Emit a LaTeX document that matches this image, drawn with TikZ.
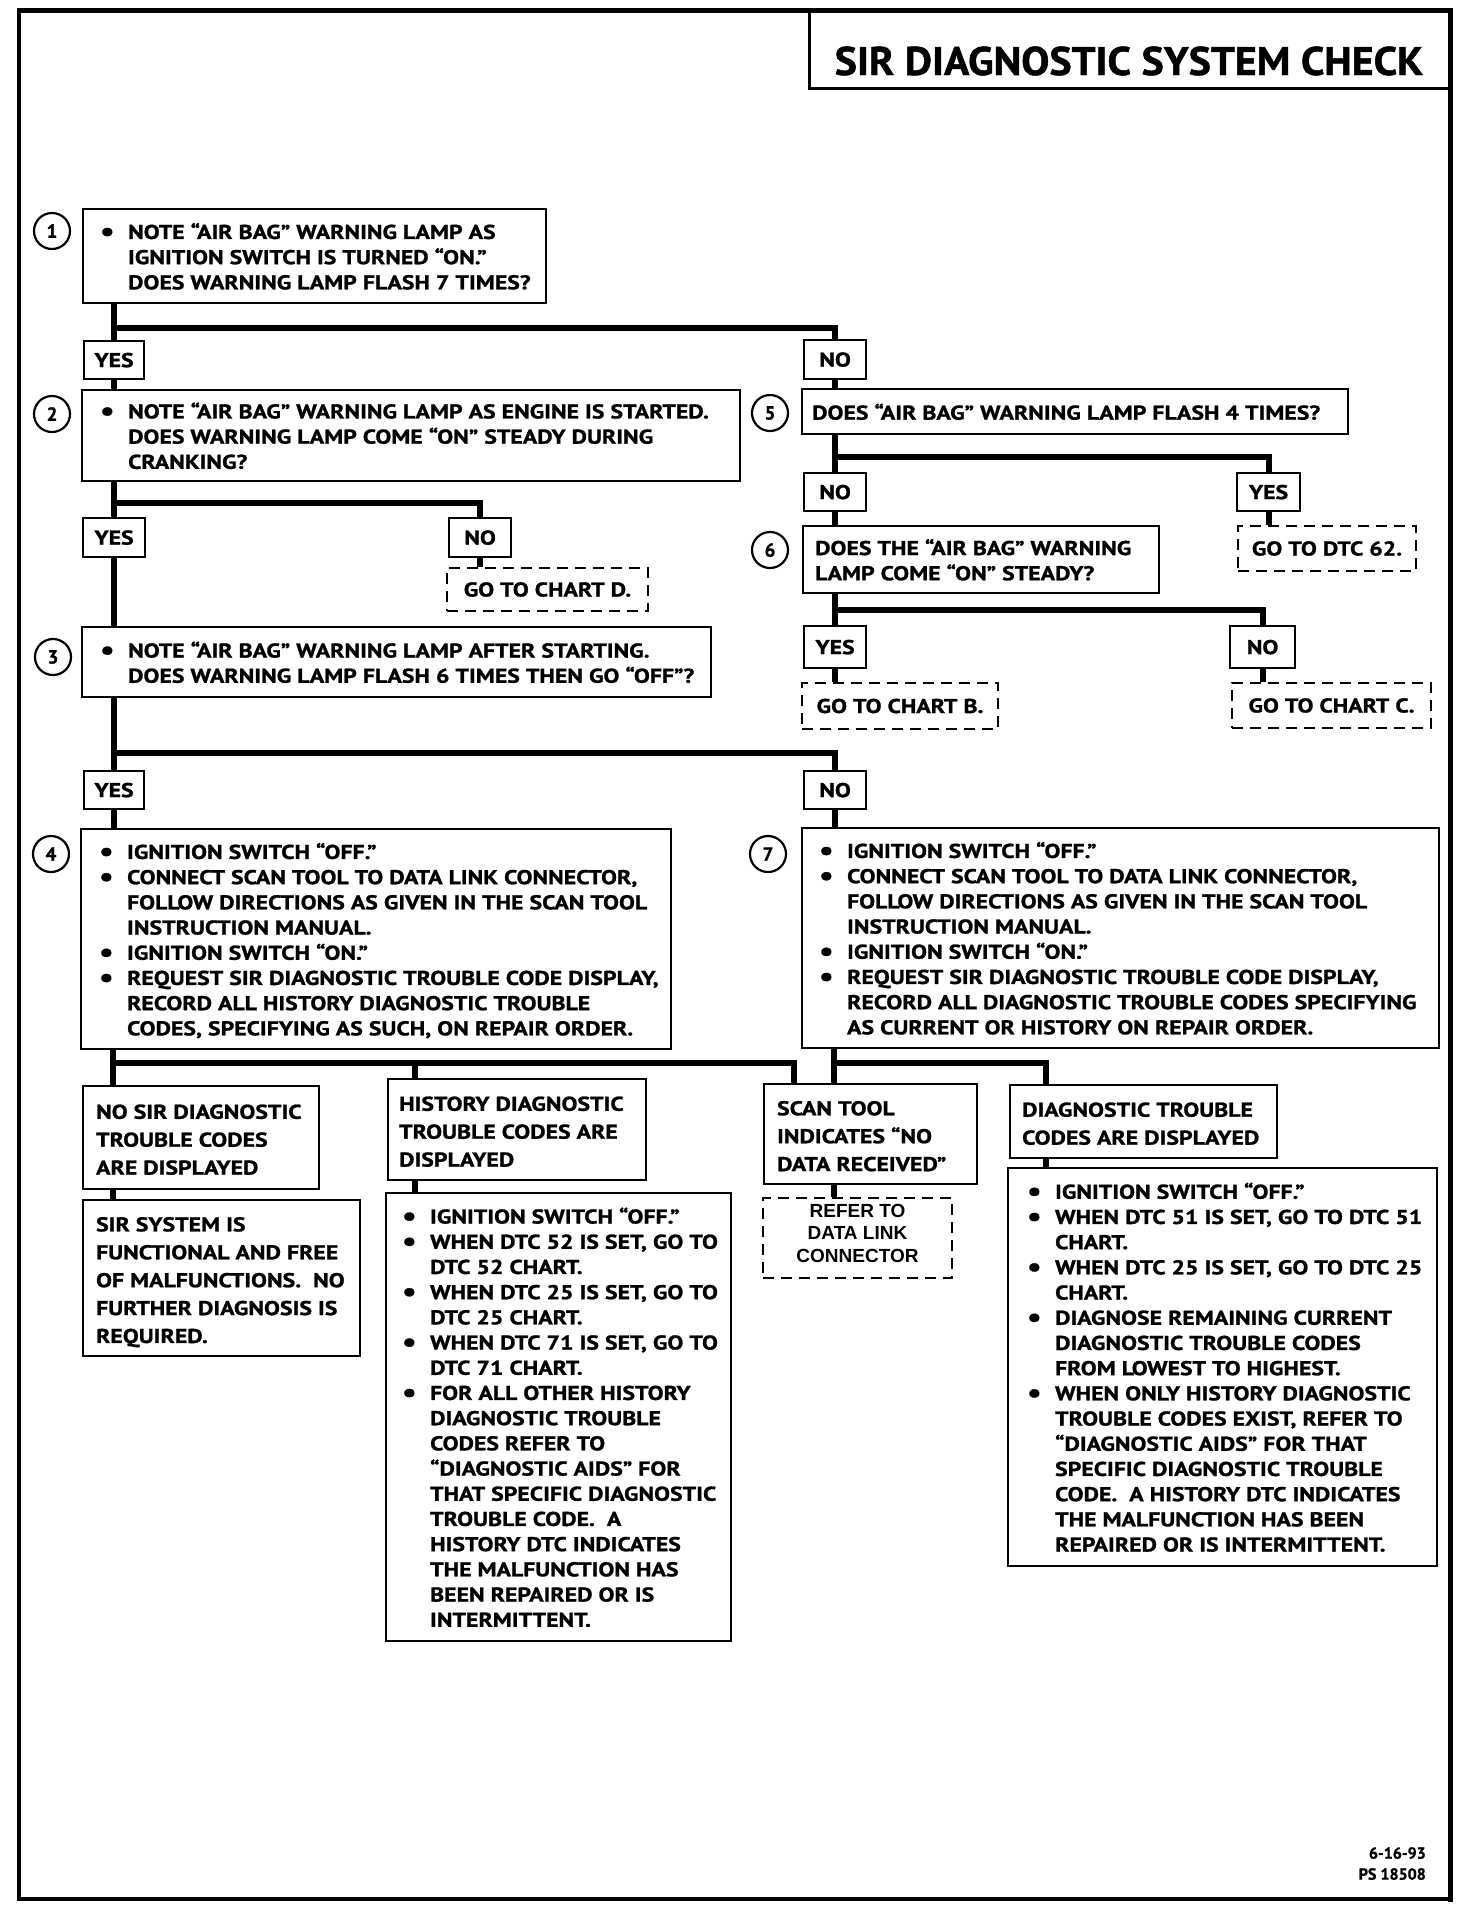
\documentclass[tikz,border=0pt]{standalone}
\usepackage{fontspec}
\setmainfont{PT Sans}[BoldFeatures={FakeStretch=1.19,FakeBold=1.2}]
\newfontfamily\titlefont{PT Sans}[BoldFeatures={FakeStretch=1.05,FakeBold=1.2}]
\newfontfamily\footfont{PT Sans}[BoldFeatures={FakeBold=1}]
\newfontfamily\reffont{Liberation Sans}
\usetikzlibrary{backgrounds}
\newcommand\bu{\makebox[28pt][l]{\raisebox{-1.5pt}{\scalebox{1.35}{\textbullet}}}}
\newcommand\ii{\hspace*{28pt}}
\newcommand\bx[2]{\raisebox{0pt}[\height][\dimexpr\depth-6pt\relax]{\makebox[#1][l]{\begin{tabular}{@{}l@{}}#2\end{tabular}}}}
\newcommand\bxl[2]{\raisebox{0pt}[\height][\dimexpr\depth-7pt\relax]{\makebox[#1][l]{\begin{tabular}{@{}l@{}}#2\end{tabular}}}}
\begin{document}
\begin{tikzpicture}[x=1pt,y=-1pt,
  box/.style={draw, line width=2.2pt, fill=white, anchor=north west, inner sep=0pt, font=\bfseries\fontsize{20}{25.2}\selectfont},
  lbl/.style={box, font=\bfseries\fontsize{20}{27.9}\selectfont},
  yn/.style={draw, line width=2.2pt, fill=white, anchor=north west, inner sep=0pt, align=center, font=\bfseries\fontsize{20}{24}\selectfont},
  go/.style={draw, line width=2pt, dash pattern=on 11pt off 7pt, fill=white, anchor=north west, inner sep=0pt, align=center, font=\bfseries\fontsize{20}{24}\selectfont},
  num/.style={circle, draw, line width=2.2pt, minimum size=36pt, inner sep=0pt, font=\footfont\bfseries\fontsize{19}{19}\selectfont},
  conn/.style={line width=6pt},
  sz/.style 2 args={minimum width=#1pt, minimum height=#2pt},
]
\useasboundingbox (0,0) rectangle (1472,1912);

% frame and title
\draw[line width=3.5pt] (19,10) rectangle (1450,1899);
\draw[line width=5pt, line cap=rect] (19,10) -- (1450,10) -- (1450,1899);
\draw[line width=3pt] (809,10) -- (809,88) -- (1450,88);
\node[font=\titlefont\bfseries\fontsize{40}{40}\selectfont] (title) at (1129,61) {SIR DIAGNOSTIC SYSTEM CHECK};
\node[anchor=north east, inner sep=0pt, align=right, font=\footfont\bfseries\fontsize{16}{21}\selectfont] (foot) at (1426,1847) {6-16-93\\PS 18508};

% step numbers
\node[num] (c1) at (52,231) {1};
\node[num] (c2) at (52,414) {2};
\node[num] (c3) at (53,657) {3};
\node[num] (c4) at (51,854) {4};
\node[num] (c5) at (770,413) {5};
\node[num] (c6) at (770,550) {6};
\node[num] (c7) at (768,854) {7};

% left column
\node[box, sz={463}{94}] (b1) at (82,208)
 {\bx{429pt}{\bu NOTE “AIR BAG” WARNING LAMP AS\\ \ii IGNITION SWITCH IS TURNED “ON.”\\ \ii DOES WARNING LAMP FLASH 7 TIMES?}};
\node[yn, sz={60}{38}] (Y1) at (83,340) {YES};
\node[yn, sz={62}{39}] (N1) at (803,339) {NO};
\node[box, sz={658}{91}] (b2) at (81,389)
 {\bx{622pt}{\bu NOTE “AIR BAG” WARNING LAMP AS ENGINE IS STARTED.\\ \ii DOES WARNING LAMP COME “ON” STEADY DURING\\ \ii CRANKING?}};
\node[yn, sz={62}{39}] (Y2) at (82,517) {YES};
\node[yn, sz={62}{39}] (N2) at (448,517) {NO};
\node[go, sz={201}{43}] (D) at (446,567) {GO TO CHART D.};
\node[box, sz={629}{70}] (b3) at (81,626)
 {\bx{593pt}{\bu NOTE “AIR BAG” WARNING LAMP AFTER STARTING.\\ \ii DOES WARNING LAMP FLASH 6 TIMES THEN GO “OFF”?}};
\node[yn, sz={60}{38}] (Y3) at (83,770) {YES};
\node[yn, sz={62}{38}] (N3) at (803,770) {NO};
\node[box, sz={590}{220}] (b4) at (80,828)
 {\bx{554pt}{\bu IGNITION SWITCH “OFF.”\\
  \bu CONNECT SCAN TOOL TO DATA LINK CONNECTOR,\\
  \ii FOLLOW DIRECTIONS AS GIVEN IN THE SCAN TOOL\\
  \ii INSTRUCTION MANUAL.\\
  \bu IGNITION SWITCH “ON.”\\
  \bu REQUEST SIR DIAGNOSTIC TROUBLE CODE DISPLAY,\\
  \ii RECORD ALL HISTORY DIAGNOSTIC TROUBLE\\
  \ii CODES, SPECIFYING AS SUCH, ON REPAIR ORDER.}};

% right column
\node[box, sz={546}{45}] (b5) at (801,388)
 {\bx{526pt}{DOES “AIR BAG” WARNING LAMP FLASH 4 TIMES?}};
\node[yn, sz={62}{38}] (N5) at (803,472) {NO};
\node[yn, sz={63}{38}] (Y5) at (1236,472) {YES};
\node[go, sz={178}{45}] (DTC62) at (1237,525) {GO TO DTC 62.};
\node[box, sz={356}{67}] (b6) at (802,525)
 {\bx{332pt}{DOES THE “AIR BAG” WARNING\\ LAMP COME “ON” STEADY?}};
\node[yn, sz={62}{42}] (Y6) at (803,625) {YES};
\node[yn, sz={65}{42}] (N6) at (1229,625) {NO};
\node[go, sz={196}{46}] (B) at (801,682) {GO TO CHART B.};
\node[go, sz={199}{45}] (C) at (1231,682) {GO TO CHART C.};
\node[box, sz={637}{220}] (b7) at (801,827)
 {\bx{603pt}{\bu IGNITION SWITCH “OFF.”\\
  \bu CONNECT SCAN TOOL TO DATA LINK CONNECTOR,\\
  \ii FOLLOW DIRECTIONS AS GIVEN IN THE SCAN TOOL\\
  \ii INSTRUCTION MANUAL.\\
  \bu IGNITION SWITCH “ON.”\\
  \bu REQUEST SIR DIAGNOSTIC TROUBLE CODE DISPLAY,\\
  \ii RECORD ALL DIAGNOSTIC TROUBLE CODES SPECIFYING\\
  \ii AS CURRENT OR HISTORY ON REPAIR ORDER.}};

% bottom row
\node[lbl, sz={236}{103}] (nosir) at (82,1085)
 {\bxl{210pt}{NO SIR DIAGNOSTIC\\ TROUBLE CODES\\ ARE DISPLAYED}};
\node[lbl, sz={277}{156}] (sirsys) at (82,1199)
 {\bxl{251pt}{SIR SYSTEM IS\\ FUNCTIONAL AND FREE\\ OF MALFUNCTIONS.\ \ NO\\ FURTHER DIAGNOSIS IS\\ REQUIRED.}};
\node[lbl, sz={258}{101}] (hist) at (387,1078)
 {\bxl{236pt}{HISTORY DIAGNOSTIC\\ TROUBLE CODES ARE\\ DISPLAYED}};
\node[box, sz={345}{448}] (histb) at (385,1192)
 {\bx{313pt}{\bu IGNITION SWITCH “OFF.”\\
  \bu WHEN DTC 52 IS SET, GO TO\\
  \ii DTC 52 CHART.\\
  \bu WHEN DTC 25 IS SET, GO TO\\
  \ii DTC 25 CHART.\\
  \bu WHEN DTC 71 IS SET, GO TO\\
  \ii DTC 71 CHART.\\
  \bu FOR ALL OTHER HISTORY\\
  \ii DIAGNOSTIC TROUBLE\\
  \ii CODES REFER TO\\
  \ii “DIAGNOSTIC AIDS” FOR\\
  \ii THAT SPECIFIC DIAGNOSTIC\\
  \ii TROUBLE CODE.\ \ A\\
  \ii HISTORY DTC INDICATES\\
  \ii THE MALFUNCTION HAS\\
  \ii BEEN REPAIRED OR IS\\
  \ii INTERMITTENT.}};
\node[lbl, sz={213}{100}] (scan) at (763,1083)
 {\bxl{187pt}{SCAN TOOL\\ INDICATES “NO\\ DATA RECEIVED”}};
\node[go, sz={189}{80}, font=\reffont\bfseries\fontsize{19}{22.5}\selectfont] (refer) at (762,1197)
 {\raisebox{0pt}[\height][\dimexpr\depth+6pt\relax]{\begin{tabular}{@{}c@{}}REFER TO\\ DATA LINK\\ CONNECTOR\end{tabular}}};
\node[lbl, sz={267}{73}] (dtc) at (1009,1084)
 {\bxl{243pt}{DIAGNOSTIC TROUBLE\\ CODES ARE DISPLAYED}};
\node[box, sz={429}{398}] (dtcb) at (1007,1167)
 {\bx{391pt}{\bu IGNITION SWITCH “OFF.”\\
  \bu WHEN DTC 51 IS SET, GO TO DTC 51\\
  \ii CHART.\\
  \bu WHEN DTC 25 IS SET, GO TO DTC 25\\
  \ii CHART.\\
  \bu DIAGNOSE REMAINING CURRENT\\
  \ii DIAGNOSTIC TROUBLE CODES\\
  \ii FROM LOWEST TO HIGHEST.\\
  \bu WHEN ONLY HISTORY DIAGNOSTIC\\
  \ii TROUBLE CODES EXIST, REFER TO\\
  \ii “DIAGNOSTIC AIDS” FOR THAT\\
  \ii SPECIFIC DIAGNOSTIC TROUBLE\\
  \ii CODE.\ \ A HISTORY DTC INDICATES\\
  \ii THE MALFUNCTION HAS BEEN\\
  \ii REPAIRED OR IS INTERMITTENT.}};

% junctions
\coordinate (j1) at (113,328);
\coordinate (j2) at (113,503);
\coordinate (j3) at (113,753);
\coordinate (j4) at (113,1063);
\coordinate (h4) at (415,1063);
\coordinate (k4) at (794,1063);
\coordinate (j5) at (834,457);
\coordinate (j6) at (834,610);
\coordinate (j7) at (834,1063);
\coordinate (k7) at (1046,1063);

\begin{scope}[on background layer]
\fill[white] (0,0) rectangle (1472,1912);
\draw[conn] (b1.south -| Y1.north) -- (Y1.north);
\draw[conn] (j1) -| (N1.north);
\draw[conn] (Y1.south) -- (b2.north -| Y1.south);
\draw[conn] (N1.south) -- (b5.north -| N1.south);
\draw[conn] (b2.south -| Y2.north) -- (Y2.north);
\draw[conn] (j2) -| (N2.north);
\draw[conn] (N2.south) -- (D.north -| N2.south);
\draw[conn] (Y2.south) -- (b3.north -| Y2.south);
\draw[conn] (b3.south -| Y3.north) -- (Y3.north);
\draw[conn] (j3) -| (N3.north);
\draw[conn] (Y3.south) -- (b4.north -| Y3.south);
\draw[conn] (N3.south) -- (b7.north -| N3.south);
\draw[conn] (b5.south -| N5.north) -- (N5.north);
\draw[conn] (j5) -| (Y5.north);
\draw[conn] (Y5.south) -- (DTC62.north -| Y5.south);
\draw[conn] (N5.south) -- (b6.north -| N5.south);
\draw[conn] (b6.south -| Y6.north) -- (Y6.north);
\draw[conn] (j6) -| (N6.north);
\draw[conn] (Y6.south) -- (B.north -| Y6.south);
\draw[conn] (N6.south) -- (C.north -| N6.south);
\draw[conn] (b4.south -| j4) -- (nosir.north -| j4);
\draw[conn] (j4) -- (k4) -- (scan.north -| k4);
\draw[conn] (h4) -- (hist.north -| h4);
\draw[conn] (b7.south -| j7) -- (scan.north -| j7);
\draw[conn] (j7) -- (k7) -- (dtc.north -| k7);
\draw[conn] (nosir.south -| j4) -- (sirsys.north -| j4);
\draw[conn] (hist.south -| h4) -- (histb.north -| h4);
\draw[conn] (scan.south -| j7) -- (refer.north -| j7);
\draw[conn] (dtc.south -| k7) -- (dtcb.north -| k7);
\end{scope}
\end{tikzpicture}
\end{document}
